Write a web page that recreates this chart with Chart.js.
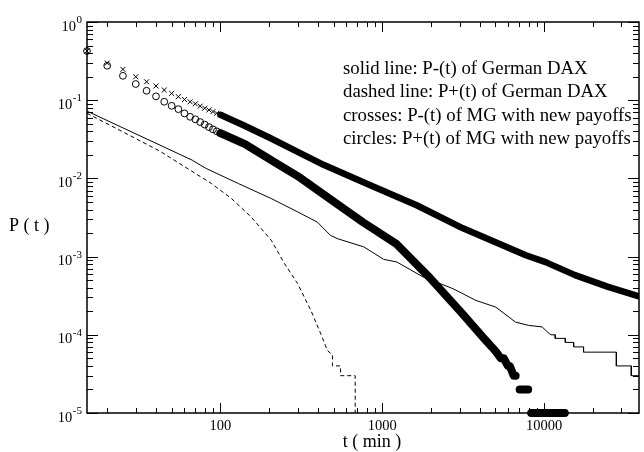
<!DOCTYPE html>
<html>
<head>
<meta charset="utf-8">
<script src="https://cdn.jsdelivr.net/npm/chart.js@4.4.1/dist/chart.umd.min.js"></script>
<style>
  html, body { margin: 0; padding: 0; background: #fff; }
  #wrap { width: 644px; height: 452px; }
</style>
</head>
<body>
<div id="wrap"><canvas id="probChart" width="644" height="452"></canvas></div>
<script>
// tick labels
const xTickLabels = [100, 1000, 10000];
const yTickExponents = [0, -1, -2, -3, -4, -5];

// solid line: P-(t) of German DAX
const daxMinusT = [15, 67, 81, 129, 206, 300, 398, 478, 527, 769, 1019, 1228, 1790, 2730, 3790, 5020, 6660, 8000, 9710,
  10400, 11000, 11700, 11700, 13500, 13500, 15200, 15200, 17500, 17500, 27900, 27900, 34500, 34500, 38500];
const daxMinusP = [0.0725, 0.0171, 0.0135, 0.0086, 0.00553, 0.00373, 0.00275, 0.00187, 0.0017, 0.00133, 0.000923, 0.000853,
  0.000548, 0.000389, 0.000275, 0.000226, 0.000145, 0.000132, 0.000126,
  0.00011, 0.0001, 0.0001, 0.00009, 0.00009, 0.00008, 0.00008, 0.00007, 0.00007, 0.00006, 0.00006, 0.00004, 0.00004, 0.00003, 0.00003];

// dashed line: P+(t) of German DAX
const daxPlusT = [15, 42, 88, 117, 155, 206, 249, 300, 362, 417, 458, 492, 492, 552, 552, 680, 680];
const daxPlusP = [0.068, 0.0225, 0.0086, 0.00553, 0.00321, 0.00162, 0.000813, 0.000451, 0.000205, 0.000103, 0.000063,
  0.000055, 0.00004, 0.00004, 0.00003, 0.00003, 0.000001];

// crosses: P-(t) of MG, single markers then the dense band
const mgMinusT = [15, 20, 25, 30, 35, 40, 45, 50, 55, 60, 65, 70, 75, 80, 85, 90, 95, 100];
const mgMinusP = [0.425, 0.299, 0.248, 0.1995, 0.172, 0.152, 0.135, 0.122, 0.111, 0.102, 0.0955, 0.090, 0.084, 0.079,
  0.075, 0.0715, 0.068, 0.065];
const mgMinusBandT = [100, 140, 200, 300, 437, 843, 1630, 3150, 7700, 10200, 15500, 24800, 38500];
const mgMinusBandP = [0.065, 0.0475, 0.0333, 0.0218, 0.0148, 0.00818, 0.00454, 0.0023, 0.00104, 0.00085, 0.00058, 0.00041, 0.00031];

// circles: P+(t) of MG
const mgPlusT = [15, 20, 25, 30, 35, 40, 45, 50, 55, 60, 65, 70, 75, 80, 85, 90, 95, 100];
const mgPlusP = [0.425, 0.276, 0.205, 0.161, 0.132, 0.112, 0.0955, 0.0848, 0.0769, 0.0678, 0.0613, 0.057, 0.0525, 0.0487,
  0.0453, 0.0424, 0.0400, 0.0378];
const mgPlusBandT = [100, 142, 226, 300, 478, 760, 1228, 1955, 3110, 4190, 5020, 5400, 5630, 5960, 6130, 6480, 6660,
  6660, 7050, 7960, 7960, 8310, 13400];
const mgPlusBandP = [0.0379, 0.0274, 0.0152, 0.0107, 0.00542, 0.00275, 0.00144, 0.000543, 0.000188, 0.0000927, 0.0000614,
  0.00005, 0.00005, 0.00004, 0.00004, 0.00003, 0.00003, null, 0.00002, 0.00002, null, 0.00001, 0.00001];

const noteLines = [
  'solid line: P-(t) of German DAX',
  'dashed line: P+(t) of German DAX',
  'crosses: P-(t) of MG with new payoffs',
  'circles: P+(t) of MG with new payoffs'
];

const serif = "'Liberation Serif', 'Times New Roman', serif";

function pts(ts, ps) {
  return ts.map((t, i) => ({ x: t, y: ps[i] }));
}

// box frame with inward ticks, labels and notes
const frameAndText = {
  id: 'frameAndText',
  afterDatasetsDraw(chart) {
    const { ctx, chartArea: a, scales: { x, y } } = chart;
    ctx.save();
    ctx.strokeStyle = '#000';
    ctx.lineWidth = 1;
    ctx.beginPath();
    for (let d = 10; d <= 100000; d *= 10) {
      for (let m = 1; m <= 9; m++) {
        const v = m * d;
        if (v < x.min || v > x.max) continue;
        const px = Math.round(x.getPixelForValue(v)) + 0.5;
        const len = m === 1 ? 10 : 5;
        ctx.moveTo(px, a.bottom); ctx.lineTo(px, a.bottom - len);
        ctx.moveTo(px, a.top); ctx.lineTo(px, a.top + len);
      }
    }
    for (let d = 1e-6; d <= 1; d *= 10) {
      for (let m = 1; m <= 9; m++) {
        const v = m * d;
        if (v < y.min * 0.999 || v > y.max * 1.001) continue;
        const py = Math.round(y.getPixelForValue(v)) + 0.5;
        const len = m === 1 ? 11 : 6;
        ctx.moveTo(a.left, py); ctx.lineTo(a.left + len, py);
        ctx.moveTo(a.right, py); ctx.lineTo(a.right - len, py);
      }
    }
    ctx.stroke();
    ctx.lineWidth = 1.5;
    ctx.strokeRect(a.left, a.top, a.right - a.left, a.bottom - a.top);
    ctx.restore();
  },
  afterDraw(chart) {
    const { ctx, chartArea: a, scales: { x, y } } = chart;
    ctx.save();
    ctx.fillStyle = '#000';
    ctx.textBaseline = 'alphabetic';

    ctx.font = '14.5px ' + serif;
    ctx.textAlign = 'center';
    xTickLabels.forEach(v => ctx.fillText(String(v), x.getPixelForValue(v), a.bottom + 17));

    yTickExponents.forEach(e => {
      const py = y.getPixelForValue(Math.pow(10, e));
      ctx.font = '11px ' + serif;
      const expText = e === 0 ? '0' : '-' + Math.abs(e);
      const ew = ctx.measureText(expText).width;
      ctx.textAlign = 'right';
      ctx.fillText(expText, a.left - 5, py + 1);
      ctx.font = '14.5px ' + serif;
      ctx.fillText('10', a.left - 5 - ew - 0.5, py + 8.5);
    });

    ctx.font = '18px ' + serif;
    ctx.textAlign = 'center';
    ctx.fillText('t ( min )', 372, 447);
    ctx.textAlign = 'left';
    ctx.fillText('P ( t )', 9, 231);

    ctx.font = '18.8px ' + serif;
    noteLines.forEach((s, i) => ctx.fillText(s, 343, 74 + i * 23.3));
    ctx.restore();
  }
};

const ctx = document.getElementById('probChart').getContext('2d');
new Chart(ctx, {
  type: 'scatter',
  data: {
    datasets: [
      {
        label: 'P-(t) of German DAX',
        data: pts(daxMinusT, daxMinusP),
        showLine: true, borderColor: '#000', borderWidth: 1, pointRadius: 0
      },
      {
        label: 'P+(t) of German DAX',
        data: pts(daxPlusT, daxPlusP),
        showLine: true, borderColor: '#000', borderWidth: 1, borderDash: [4, 3], pointRadius: 0
      },
      {
        label: 'P-(t) of MG band',
        data: pts(mgMinusBandT, mgMinusBandP),
        showLine: true, borderColor: '#000', borderWidth: 6.5, pointRadius: 0,
        borderCapStyle: 'round', borderJoinStyle: 'round'
      },
      {
        label: 'P-(t) of MG',
        data: pts(mgMinusT, mgMinusP),
        pointStyle: 'crossRot', pointRadius: 3.5, pointBorderWidth: 1,
        pointBorderColor: '#000', pointBackgroundColor: '#000', clip: false
      },
      {
        label: 'P+(t) of MG band',
        data: pts(mgPlusBandT, mgPlusBandP),
        showLine: true, spanGaps: false, borderColor: '#000', borderWidth: 8, pointRadius: 0,
        borderCapStyle: 'round', borderJoinStyle: 'round',
        clip: { left: 5, top: 5, right: 0, bottom: 6 }
      },
      {
        label: 'P+(t) of MG',
        data: pts(mgPlusT, mgPlusP),
        pointStyle: 'circle', pointRadius: 3.4, pointBorderWidth: 1,
        pointBorderColor: '#000', pointBackgroundColor: 'rgba(0,0,0,0)', clip: false
      }
    ]
  },
  options: {
    responsive: false,
    animation: false,
    devicePixelRatio: 1,
    layout: { padding: { left: 87, top: 22, right: 0, bottom: 39 } },
    plugins: { legend: { display: false }, tooltip: { enabled: false } },
    scales: {
      x: { type: 'logarithmic', min: 15, max: 38500, display: false },
      y: { type: 'logarithmic', min: 1e-5, max: 1, display: false }
    }
  },
  plugins: [frameAndText]
});
</script>
</body>
</html>
